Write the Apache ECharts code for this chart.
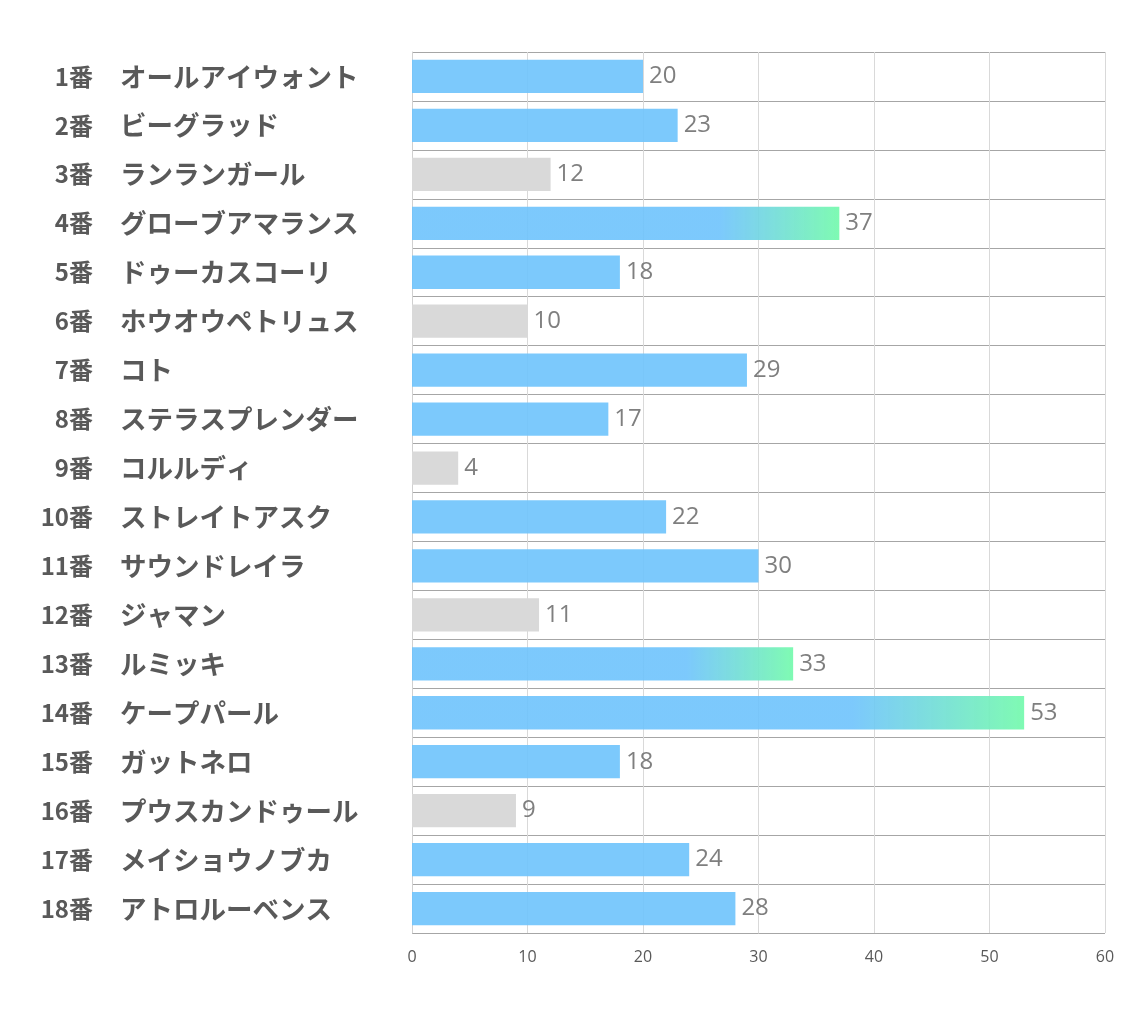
<!DOCTYPE html>
<html>
<head>
<meta charset="utf-8">
<script src="https://cdn.jsdelivr.net/npm/echarts@6/dist/echarts.min.js"></script>
<style>html,body{margin:0;padding:0;background:#fff;}#c{width:1134px;height:1020px;}</style>
</head>
<body>
<div id="c"></div>
<script>
const numbers = ["1番","2番","3番","4番","5番","6番","7番","8番","9番","10番","11番","12番","13番","14番","15番","16番","17番","18番"];
const names = ["オールアイウォント","ビーグラッド","ランランガール","グローブアマランス","ドゥーカスコーリ","ホウオウペトリュス","コト","ステラスプレンダー","コルルディ","ストレイトアスク","サウンドレイラ","ジャマン","ルミッキ","ケープパール","ガットネロ","プウスカンドゥール","メイショウノブカ","アトロルーベンス"];
const values = [20,23,12,37,18,10,29,17,4,22,30,11,33,53,18,9,24,28];
const xTicks = [0,10,20,30,40,50,60];

const BLUE = 'rgba(110,195,252,0.9)';
const GREEN = 'rgba(120,250,175,0.95)';
const GRAY = '#d9d9d9';
const JP = '"Noto Sans CJK JP",sans-serif';

const barData = values.map(v => {
  let color;
  if (v <= 12) color = GRAY;
  else if (v > 30) color = new echarts.graphic.LinearGradient(0,0,1,0,[
    {offset:0,color:BLUE},{offset:0.72,color:BLUE},{offset:1,color:GREEN}]);
  else color = BLUE;
  return {value:v, itemStyle:{color}};
});

const chart = echarts.init(document.getElementById('c'));
chart.setOption({
  animation:false,
  grid:{left:412,right:29,top:52,bottom:87,containLabel:false},
  xAxis:{
    type:'value',min:xTicks[0],max:xTicks[xTicks.length-1],interval:10,
    axisLine:{show:false},axisTick:{show:false},
    splitLine:{show:true,lineStyle:{color:'#d9d9d9',width:1}},
    axisLabel:{color:'#595959',fontSize:16,margin:16,fontFamily:'"Open Sans","Noto Sans",sans-serif'}
  },
  yAxis:[{
    type:'category',data:numbers,inverse:true,
    axisLine:{show:true,lineStyle:{color:'#d0d0d0'}},
    axisTick:{show:false},
    splitLine:{show:true,lineStyle:{color:'#a6a6a6',width:1}},
    axisLabel:{align:'right',margin:319,fontSize:24,fontWeight:'bold',color:'#595959',fontFamily:JP}
  },{
    type:'category',data:names,inverse:true,position:'left',
    axisLine:{show:false},axisTick:{show:false},splitLine:{show:false},
    axisLabel:{align:'left',margin:292,fontSize:26.5,fontWeight:'bold',color:'#595959',fontFamily:JP}
  }],
  series:[{
    type:'bar',data:barData,barCategoryGap:'32%',yAxisIndex:0,
    label:{show:true,position:'right',distance:6,color:'#7f7f7f',fontSize:24,fontFamily:'"Open Sans","Noto Sans",sans-serif'}
  }]
});
</script>
</body>
</html>
